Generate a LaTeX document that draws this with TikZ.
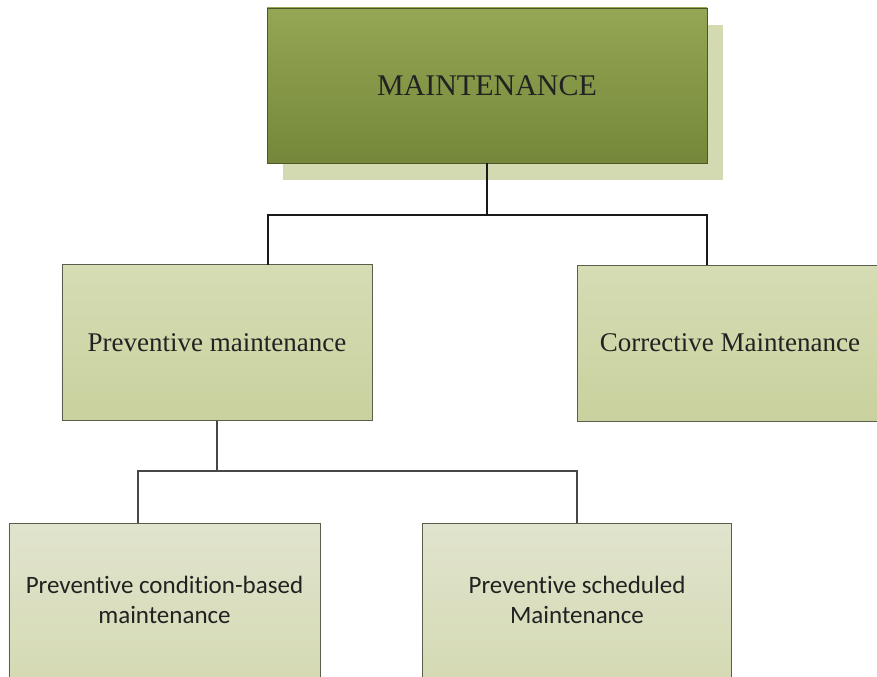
\documentclass[tikz,border=0pt]{standalone}
\usepackage{fontspec}
\newfontfamily\serifA{Liberation Serif}
\newfontfamily\sansA[Ligatures={NoCommon}]{Carlito}
\usetikzlibrary{calc}
\definecolor{topA}{HTML}{95A754}
\definecolor{topB}{HTML}{74873A}
\definecolor{topBorder}{HTML}{4A5826}
\definecolor{shadowC}{HTML}{D3D9B0}
\definecolor{midA}{HTML}{D6DCB4}
\definecolor{midB}{HTML}{C9D19E}
\definecolor{lowA}{HTML}{E1E4CD}
\definecolor{lowB}{HTML}{D5DAB4}
\definecolor{boxBorder}{HTML}{5A5E4C}
\definecolor{txt}{HTML}{222222}
\tikzset{
  topbox/.style={rectangle, draw=topBorder, line width=0.9bp, top color=topA, bottom color=topB,
    minimum width=440bp, minimum height=155bp, inner sep=0pt, text=txt,
    font=\serifA\fontsize{30bp}{34bp}\selectfont},
  midbox/.style={rectangle, draw=boxBorder, line width=0.9bp, top color=midA, bottom color=midB,
    minimum height=156bp, inner sep=0pt, text=txt,
    font=\serifA\fontsize{27bp}{31bp}\selectfont},
  lowbox/.style={rectangle, draw=boxBorder, line width=0.9bp, top color=lowA, bottom color=lowB,
    minimum height=154bp, inner sep=0pt, text=txt, align=center,
    font=\sansA\fontsize{25bp}{30bp}\selectfont},
  linkA/.style={draw=black!90, line width=2.6bp},
  linkB/.style={draw=black!72, line width=2.1bp}
}
\begin{document}
\begin{tikzpicture}[x=1bp,y=-1bp]
\useasboundingbox (0,0) rectangle (877,677);
% shadow of top box
\fill[shadowC] (283,25) rectangle (723,180);
\node[topbox] (top) at (487,85.5) {MAINTENANCE};
\node[midbox, minimum width=310bp] (pm) at (217,342.5) {Preventive maintenance};
\node[midbox, minimum width=330bp] (cm) at (742,343) {Corrective Maintenance\hspace*{24bp}};
\node[lowbox, minimum width=311bp] (cb) at (164.5,600) {Preventive condition-based\\maintenance};
\node[lowbox, minimum width=309bp] (sm) at (577,600) {Preventive scheduled\\Maintenance};
% junctions
\coordinate (j1) at (487,215);
\coordinate (pmIn) at (268,265);
\coordinate (cmIn) at (707,265);
\coordinate (j2) at (217,471);
\coordinate (cbIn) at (138,523);
\draw[linkA] (top.south) -- (j1);
\draw[linkA] (j1) -| (pmIn);
\draw[linkA] (j1) -| (cmIn);
\draw[linkB] (pm.south) -- (j2);
\draw[linkB] (j2) -| (cbIn);
\draw[linkB] (j2) -| (sm.north);
\end{tikzpicture}
\end{document}
